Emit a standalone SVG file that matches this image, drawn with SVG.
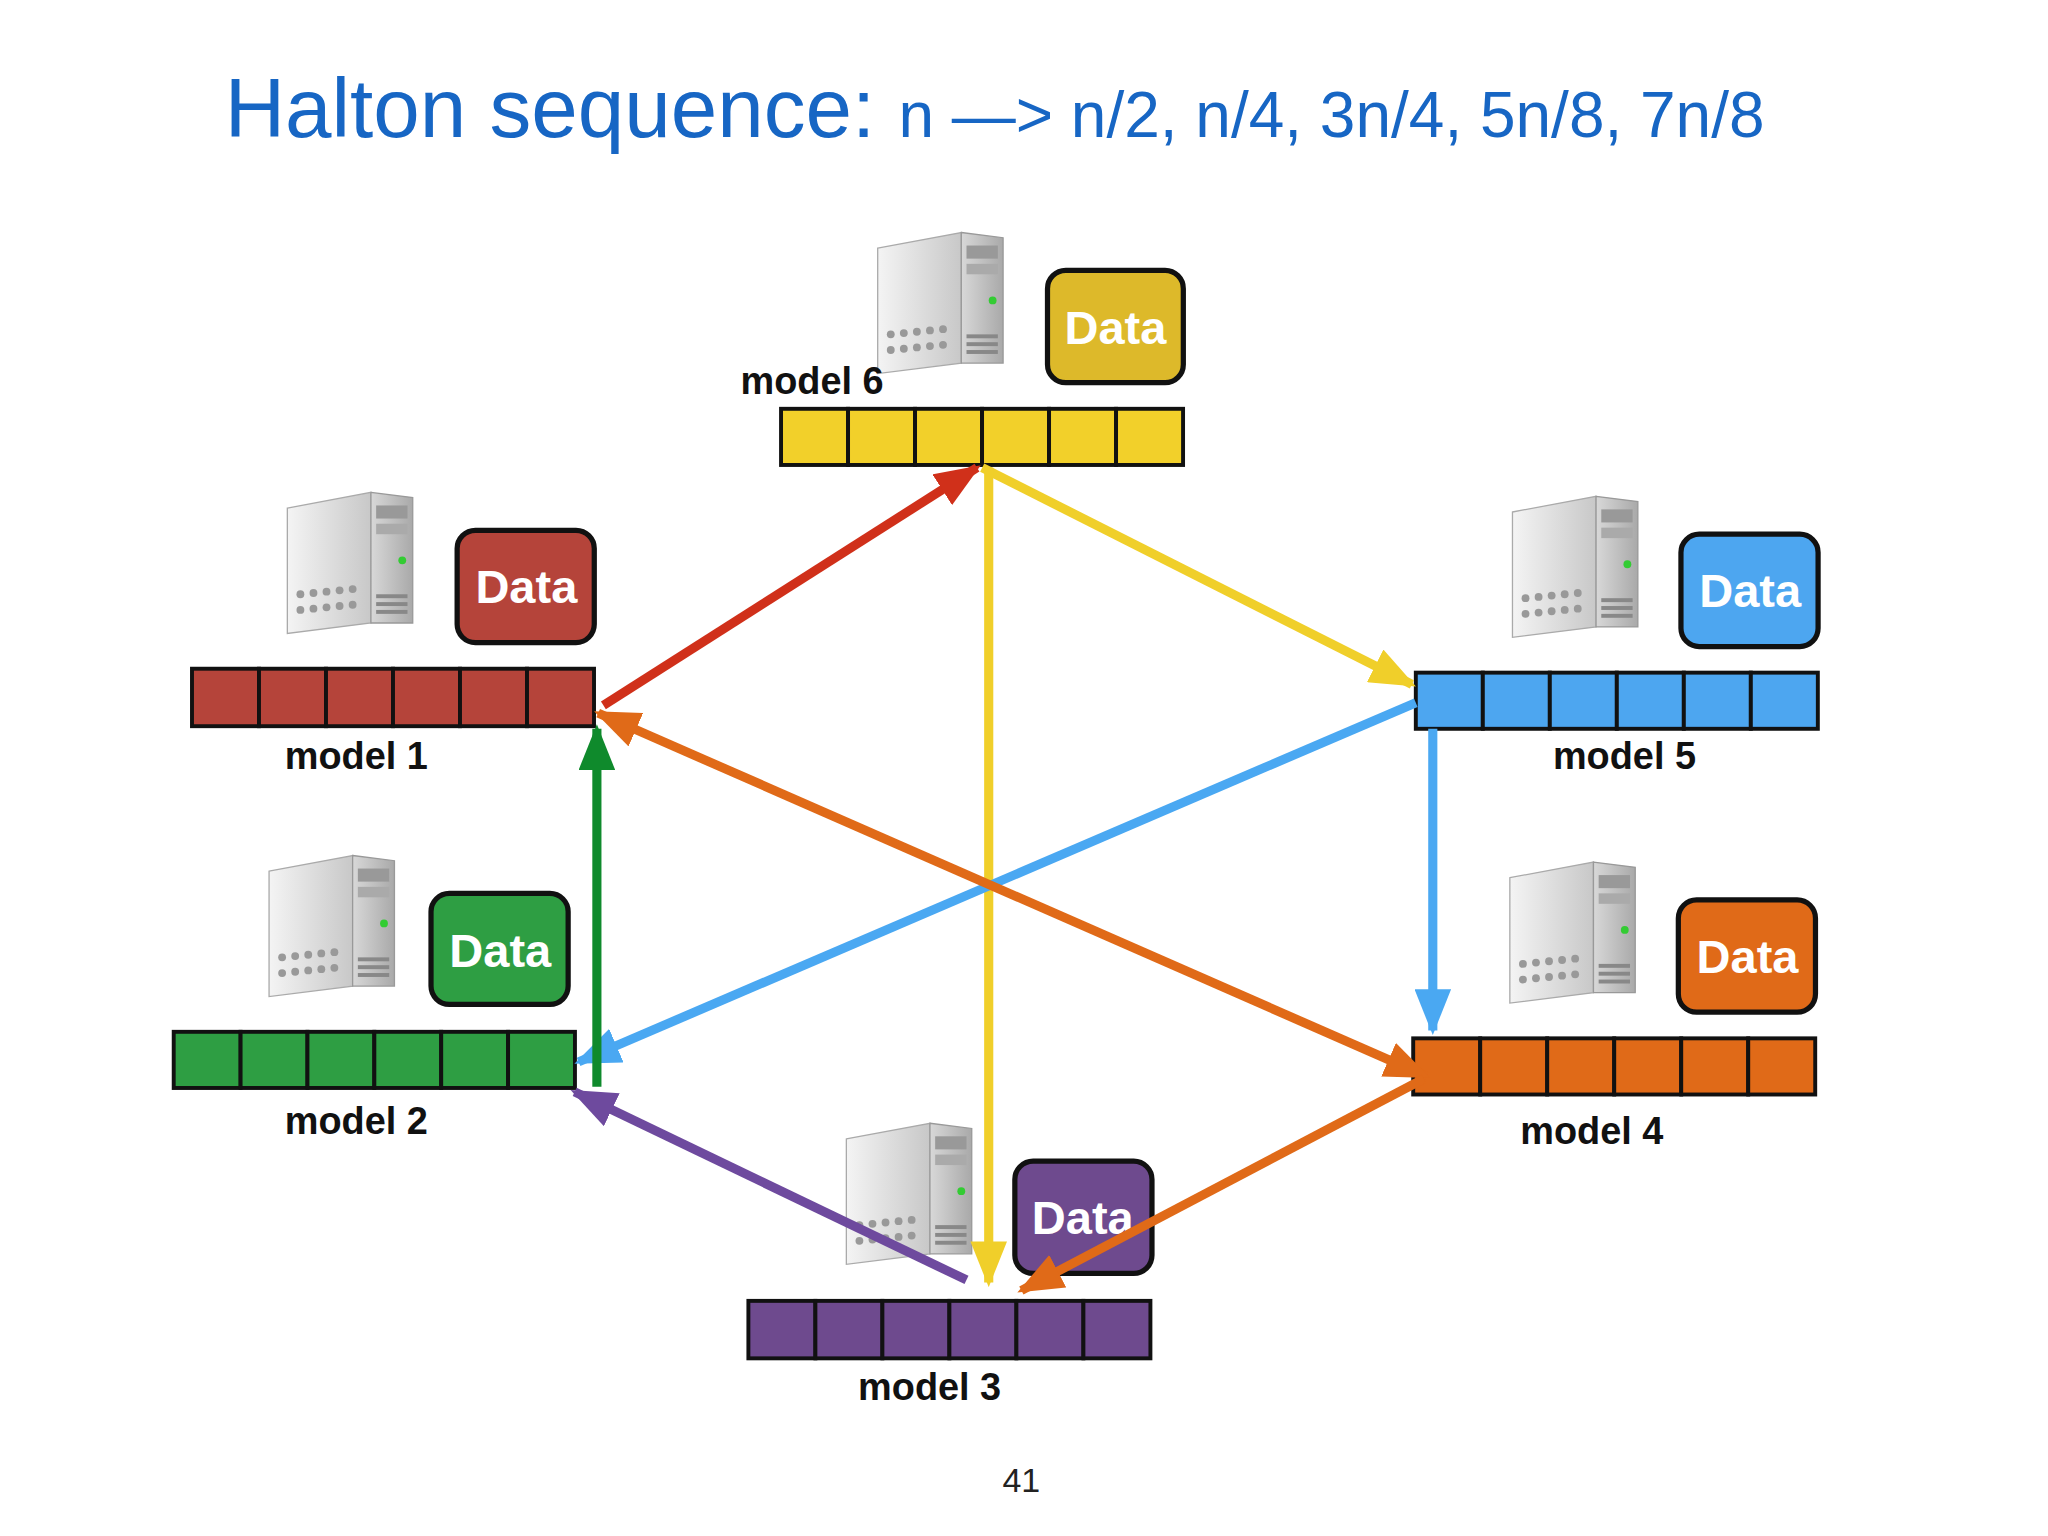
<svg xmlns="http://www.w3.org/2000/svg" width="2048" height="1536" viewBox="0 0 2048 1536">
<defs>
<style>
.lbl{font-family:"Liberation Sans",Arial,sans-serif;font-weight:bold;font-size:29px;fill:#111}
.dt{font-family:"Liberation Sans",Arial,sans-serif;font-weight:bold;font-size:36px;fill:#fff;text-anchor:middle}
.cell{stroke:#111;stroke-width:3}
.db{stroke:#111;stroke-width:4}
.ar{fill:none;stroke-width:7}
</style>
<linearGradient id="sg" x1="0" y1="0" x2="1" y2="0"><stop offset="0" stop-color="#f4f4f4"/><stop offset="1" stop-color="#c8c8c8"/></linearGradient>
<linearGradient id="sf" x1="0" y1="0" x2="1" y2="0"><stop offset="0" stop-color="#d8d8d8"/><stop offset="1" stop-color="#a9a9a9"/></linearGradient>
<g id="srv">
<path d="M0 12 L64 0 L64 100 L0 108 Z" fill="url(#sg)" stroke="#aaa"/>
<path d="M64 0 L96 4 L96 100 L64 100 Z" fill="url(#sf)" stroke="#999"/>
<rect x="68" y="10" width="24" height="10" fill="#999"/>
<rect x="68" y="24" width="24" height="8" fill="#aaa"/>
<circle cx="88" cy="52" r="3" fill="#3c3"/>
<g fill="#888"><rect x="68" y="78" width="24" height="3"/><rect x="68" y="84" width="24" height="3"/><rect x="68" y="90" width="24" height="3"/></g>
<g fill="#999"><circle cx="10" cy="78" r="3"/><circle cx="20" cy="77" r="3"/><circle cx="30" cy="76" r="3"/><circle cx="40" cy="75" r="3"/><circle cx="50" cy="74" r="3"/>
<circle cx="10" cy="90" r="3"/><circle cx="20" cy="89" r="3"/><circle cx="30" cy="88" r="3"/><circle cx="40" cy="87" r="3"/><circle cx="50" cy="86" r="3"/></g>
</g>
<marker id="mr" markerWidth="5" markerHeight="4" refX="4.5" refY="2" orient="auto" markerUnits="strokeWidth"><path d="M0 0 L5 2 L0 4 Z" fill="#d0301a"/></marker>
<marker id="my" markerWidth="5" markerHeight="4" refX="4.5" refY="2" orient="auto" markerUnits="strokeWidth"><path d="M0 0 L5 2 L0 4 Z" fill="#f0cf2a"/></marker>
<marker id="mb" markerWidth="5" markerHeight="4" refX="4.5" refY="2" orient="auto" markerUnits="strokeWidth"><path d="M0 0 L5 2 L0 4 Z" fill="#4aa8f2"/></marker>
<marker id="mo" markerWidth="5" markerHeight="4" refX="4.5" refY="2" orient="auto-start-reverse" markerUnits="strokeWidth"><path d="M0 0 L5 2 L0 4 Z" fill="#e06a18"/></marker>
<marker id="mg" markerWidth="5" markerHeight="4" refX="4.5" refY="2" orient="auto" markerUnits="strokeWidth"><path d="M0 0 L5 2 L0 4 Z" fill="#0f8a2c"/></marker>
<marker id="mp" markerWidth="5" markerHeight="4" refX="4.5" refY="2" orient="auto" markerUnits="strokeWidth"><path d="M0 0 L5 2 L0 4 Z" fill="#6e4a9e"/></marker>
</defs>
<rect width="2048" height="1536" fill="#fff"/>
<g transform="scale(1.3061)">
<text x="172" y="105" font-family="Liberation Sans,Arial,sans-serif" fill="#1766c4"><tspan font-size="64">Halton sequence: </tspan><tspan font-size="49">n —&gt; n/2, n/4, 3n/4, 5n/8, 7n/8</tspan></text>

<g id="model6">
<use href="#srv" x="672" y="178"/>
<rect class="db" x="802" y="207" width="104" height="86" rx="14" fill="#ddb92a"/><text class="dt" x="854" y="263">Data</text>
<text class="lbl" x="567" y="302">model 6</text>
<g fill="#f2d02a" class="cell"><rect x="598" y="313" width="51.3" height="43"/><rect x="649.3" y="313" width="51.3" height="43"/><rect x="700.6" y="313" width="51.3" height="43"/><rect x="751.9" y="313" width="51.3" height="43"/><rect x="803.2" y="313" width="51.3" height="43"/><rect x="854.5" y="313" width="51.3" height="43"/></g>
</g>
<g id="model1">
<use href="#srv" x="220" y="377"/>
<rect class="db" x="350" y="406" width="105" height="86" rx="14" fill="#b5443a"/><text class="dt" x="403" y="462">Data</text>
<text class="lbl" x="218" y="589">model 1</text>
<g fill="#b5443a" class="cell"><rect x="147" y="512" width="51.3" height="44"/><rect x="198.3" y="512" width="51.3" height="44"/><rect x="249.6" y="512" width="51.3" height="44"/><rect x="300.9" y="512" width="51.3" height="44"/><rect x="352.2" y="512" width="51.3" height="44"/><rect x="403.5" y="512" width="51.3" height="44"/></g>
</g>
<g id="model5">
<use href="#srv" x="1158" y="380"/>
<rect class="db" x="1287" y="409" width="105" height="86" rx="14" fill="#4da6f0"/><text class="dt" x="1340" y="465">Data</text>
<text class="lbl" x="1189" y="589">model 5</text>
<g fill="#4da6f0" class="cell"><rect x="1084" y="515" width="51.3" height="43"/><rect x="1135.3" y="515" width="51.3" height="43"/><rect x="1186.6" y="515" width="51.3" height="43"/><rect x="1237.9" y="515" width="51.3" height="43"/><rect x="1289.2" y="515" width="51.3" height="43"/><rect x="1340.5" y="515" width="51.3" height="43"/></g>
</g>
<g id="model2">
<use href="#srv" x="206" y="655"/>
<rect class="db" x="330" y="684" width="105" height="85" rx="14" fill="#2e9e43"/><text class="dt" x="383" y="740">Data</text>
<text class="lbl" x="218" y="868">model 2</text>
<g fill="#2e9e43" class="cell"><rect x="133" y="790" width="51.2" height="43"/><rect x="184.2" y="790" width="51.2" height="43"/><rect x="235.4" y="790" width="51.2" height="43"/><rect x="286.6" y="790" width="51.2" height="43"/><rect x="337.8" y="790" width="51.2" height="43"/><rect x="389" y="790" width="51.2" height="43"/></g>
</g>
<g id="model4">
<use href="#srv" x="1156" y="660"/>
<rect class="db" x="1285" y="689" width="105" height="86" rx="14" fill="#e06a18"/><text class="dt" x="1338" y="745">Data</text>
<text class="lbl" x="1164" y="876">model 4</text>
<g fill="#e06a18" class="cell"><rect x="1082" y="795" width="51.3" height="43"/><rect x="1133.3" y="795" width="51.3" height="43"/><rect x="1184.6" y="795" width="51.3" height="43"/><rect x="1235.9" y="795" width="51.3" height="43"/><rect x="1287.2" y="795" width="51.3" height="43"/><rect x="1338.5" y="795" width="51.3" height="43"/></g>
</g>
<g id="model3">
<use href="#srv" x="648" y="860"/>
<rect class="db" x="777" y="889" width="105" height="86" rx="14" fill="#6e4a8e"/><text class="dt" x="829" y="945">Data</text>
<text class="lbl" x="657" y="1072">model 3</text>
<g fill="#6e4a8e" class="cell"><rect x="573" y="996" width="51.3" height="44"/><rect x="624.3" y="996" width="51.3" height="44"/><rect x="675.6" y="996" width="51.3" height="44"/><rect x="726.9" y="996" width="51.3" height="44"/><rect x="778.2" y="996" width="51.3" height="44"/><rect x="829.5" y="996" width="51.3" height="44"/></g>
</g>

<g id="connectors">
<line class="ar" stroke="#d0301a" x1="462" y1="540" x2="748" y2="358" marker-end="url(#mr)"/>
<line class="ar" stroke="#f0cf2a" x1="752" y1="358" x2="1081" y2="524" marker-end="url(#my)"/>
<line class="ar" stroke="#f0cf2a" x1="757" y1="358" x2="757" y2="982" marker-end="url(#my)"/>
<line class="ar" stroke="#4aa8f2" x1="1097" y1="558" x2="1097" y2="789" marker-end="url(#mb)"/>
<line class="ar" stroke="#4aa8f2" x1="1084" y1="538" x2="443" y2="813" marker-end="url(#mb)"/>
<line class="ar" stroke="#e06a18" x1="458" y1="546" x2="1092" y2="824" marker-start="url(#mo)" marker-end="url(#mo)"/>
<line class="ar" stroke="#e06a18" x1="1090" y1="826" x2="782" y2="988" marker-end="url(#mo)"/>
<line class="ar" stroke="#0f8a2c" x1="457" y1="832" x2="457" y2="558" marker-end="url(#mg)"/>
<line class="ar" stroke="#6e4a9e" x1="740" y1="980" x2="440" y2="836" marker-end="url(#mp)"/>
</g>
<text x="782" y="1142" font-family="Liberation Sans,Arial,sans-serif" font-size="26" fill="#222" text-anchor="middle">41</text>
</g>
</svg>
